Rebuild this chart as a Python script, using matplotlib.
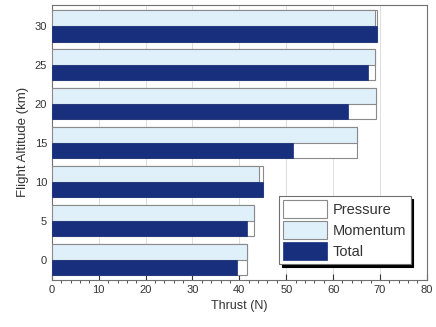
import numpy as np
import matplotlib
matplotlib.use("Agg")
import matplotlib.pyplot as plt
from matplotlib.ticker import MultipleLocator

altitude = [0, 5, 10, 15, 20, 25, 30]
pressure = [41.7, 43.1, 45.1, 65.1, 69.1, 69.0, 69.3]
momentum = [41.7, 43.1, 44.1, 65.1, 69.1, 68.9, 69.0]
total = [39.6, 41.7, 45.1, 51.5, 63.2, 67.5, 69.3]

plt.rcParams["font.family"] = ["Liberation Sans", "DejaVu Sans"]
plt.rcParams["text.color"] = "#333333"
plt.rcParams["axes.labelcolor"] = "#333333"
plt.rcParams["xtick.color"] = "#333333"
plt.rcParams["ytick.color"] = "#333333"

fig = plt.figure(figsize=(4.36, 3.27), dpi=100)
ax = fig.add_axes([0.119, 0.144, 0.860, 0.841])

y = np.array(altitude, dtype=float)
edge = "#8a8a8a"
ax.barh(y, pressure, height=4.0, color="white", edgecolor=edge,
        linewidth=0.8, label="Pressure", zorder=2)
ax.barh(y + 1, momentum, height=2.0, color="#dff0fb", edgecolor=edge,
        linewidth=0.8, label="Momentum", zorder=3)
ax.barh(y - 1, total, height=2.0, color="#172f7c", edgecolor="#172f7c",
        linewidth=0.5, label="Total", zorder=3)

ax.set_xlim(0, 80)
ax.set_ylim(-2.6, 32.7)
ax.xaxis.set_major_locator(MultipleLocator(10))
ax.xaxis.set_minor_locator(MultipleLocator(2))
ax.set_yticks(altitude)
ax.tick_params(axis="both", labelsize=8, direction="in")
ax.tick_params(axis="x", which="major", length=4)
ax.tick_params(axis="x", which="minor", length=2)
ax.tick_params(axis="y", length=0)
ax.grid(axis="x", color="#d8d8d8", linewidth=0.6, zorder=0)
ax.set_axisbelow(True)
for s in ax.spines.values():
    s.set_color("#707070")
    s.set_linewidth(0.8)

ax.set_xlabel("Thrust (N)", fontsize=9)
ax.set_ylabel("Flight Altitude (km)", fontsize=9.5)

leg = ax.legend(loc="upper left", bbox_to_anchor=(0.605, 0.305),
                fontsize=10.5, fancybox=False, framealpha=1,
                edgecolor="#707070", borderpad=0.3, labelspacing=0.2,
                borderaxespad=0, handlelength=3.0, handleheight=1.5,
                handletextpad=0.4,
                shadow={"color": "black", "alpha": 1, "ox": 2, "oy": -2})
leg.get_frame().set_linewidth(0.8)

fig.savefig("out.png", dpi=100)
